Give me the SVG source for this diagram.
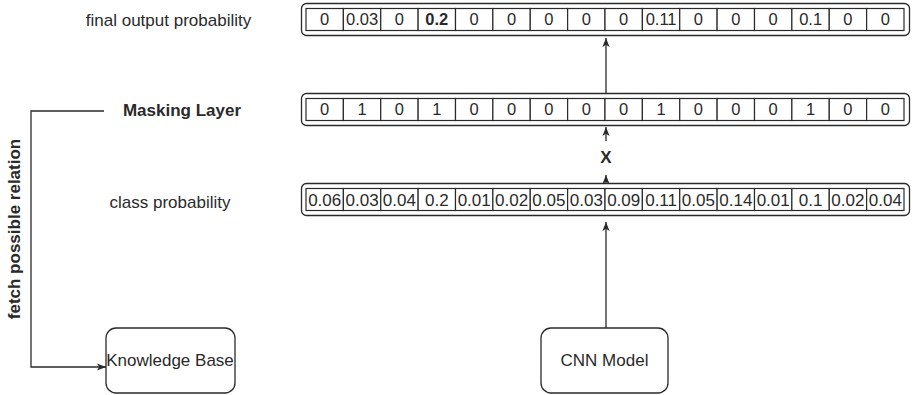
<svg xmlns="http://www.w3.org/2000/svg" width="913" height="395" viewBox="0 0 913 395">
<style>
.bg{fill:#ffffff}
.outer{fill:#ffffff;stroke:#2a2a2a;stroke-width:1.3}
.cell{fill:#ffffff;stroke:#2a2a2a;stroke-width:1.2}
.box{fill:#ffffff;stroke:#2a2a2a;stroke-width:1.3}
.ct{font-family:"Liberation Sans",Arial,sans-serif;font-size:16.5px;fill:#2a2a2a;text-anchor:middle}
.cp{font-family:"Liberation Sans",Arial,sans-serif;font-size:17px;fill:#2a2a2a;text-anchor:middle}
.b{font-weight:bold}
.lbl{font-family:"Liberation Sans",Arial,sans-serif;font-size:17px;fill:#2a2a2a;text-anchor:middle}
.edge{fill:none;stroke:#2a2a2a;stroke-width:1.3}
</style>
<defs>
<marker id="arr" viewBox="0 0 10 10" refX="10" refY="5" markerWidth="9" markerHeight="9" markerUnits="userSpaceOnUse" orient="auto">
<path d="M0,1 L10,5 L0,9 L2.5,5 Z" fill="#2a2a2a"/>
</marker>
<g id="cells">
<rect class="cell" x="306" y="0" width="37.375" height="22"/>
<rect class="cell" x="343.375" y="0" width="37.375" height="22"/>
<rect class="cell" x="380.75" y="0" width="37.375" height="22"/>
<rect class="cell" x="418.125" y="0" width="37.375" height="22"/>
<rect class="cell" x="455.5" y="0" width="37.375" height="22"/>
<rect class="cell" x="492.875" y="0" width="37.375" height="22"/>
<rect class="cell" x="530.25" y="0" width="37.375" height="22"/>
<rect class="cell" x="567.625" y="0" width="37.375" height="22"/>
<rect class="cell" x="605" y="0" width="37.375" height="22"/>
<rect class="cell" x="642.375" y="0" width="37.375" height="22"/>
<rect class="cell" x="679.75" y="0" width="37.375" height="22"/>
<rect class="cell" x="717.125" y="0" width="37.375" height="22"/>
<rect class="cell" x="754.5" y="0" width="37.375" height="22"/>
<rect class="cell" x="791.875" y="0" width="37.375" height="22"/>
<rect class="cell" x="829.25" y="0" width="37.375" height="22"/>
<rect class="cell" x="866.625" y="0" width="37.375" height="22"/>
</g>
</defs>
<rect class="bg" x="0" y="0" width="913" height="395"/>

<g id="labels">
<text class="lbl" x="168.5" y="26">final output probability</text>
<text class="lbl b" x="182" y="116">Masking Layer</text>
<text class="lbl" x="170" y="207.5">class probability</text>
<text class="lbl b" x="0" y="0" font-size="16" transform="translate(20,229) rotate(-90)">fetch possible relation</text>
</g>

<g id="final-output">
<rect class="outer" x="301.5" y="3.5" width="608" height="32" rx="5"/>
<use href="#cells" x="0" y="8.5"/>
<text class="ct" x="324.7" y="25.3">0</text>
<text class="ct" x="362.1" y="25.3">0.03</text>
<text class="ct" x="399.4" y="25.3">0</text>
<text class="ct b" x="436.8" y="25.3">0.2</text>
<text class="ct" x="474.2" y="25.3">0</text>
<text class="ct" x="511.6" y="25.3">0</text>
<text class="ct" x="548.9" y="25.3">0</text>
<text class="ct" x="586.3" y="25.3">0</text>
<text class="ct" x="623.7" y="25.3">0</text>
<text class="ct" x="661.1" y="25.3">0.11</text>
<text class="ct" x="698.4" y="25.3">0</text>
<text class="ct" x="735.8" y="25.3">0</text>
<text class="ct" x="773.2" y="25.3">0</text>
<text class="ct" x="810.6" y="25.3">0.1</text>
<text class="ct" x="847.9" y="25.3">0</text>
<text class="ct" x="885.3" y="25.3">0</text>
</g>

<g id="masking-layer">
<rect class="outer" x="301.5" y="93.5" width="608" height="32" rx="5"/>
<use href="#cells" x="0" y="98.5"/>
<text class="ct" x="324.7" y="115.3">0</text>
<text class="ct" x="362.1" y="115.3">1</text>
<text class="ct" x="399.4" y="115.3">0</text>
<text class="ct" x="436.8" y="115.3">1</text>
<text class="ct" x="474.2" y="115.3">0</text>
<text class="ct" x="511.6" y="115.3">0</text>
<text class="ct" x="548.9" y="115.3">0</text>
<text class="ct" x="586.3" y="115.3">0</text>
<text class="ct" x="623.7" y="115.3">0</text>
<text class="ct" x="661.1" y="115.3">1</text>
<text class="ct" x="698.4" y="115.3">0</text>
<text class="ct" x="735.8" y="115.3">0</text>
<text class="ct" x="773.2" y="115.3">0</text>
<text class="ct" x="810.6" y="115.3">1</text>
<text class="ct" x="847.9" y="115.3">0</text>
<text class="ct" x="885.3" y="115.3">0</text>
</g>

<g id="class-probability">
<rect class="outer" x="301.5" y="183.5" width="608" height="32" rx="5"/>
<use href="#cells" x="0" y="188.5"/>
<text class="cp" x="324.7" y="205.7">0.06</text>
<text class="cp" x="362.1" y="205.7">0.03</text>
<text class="cp" x="399.4" y="205.7">0.04</text>
<text class="cp" x="436.8" y="205.7">0.2</text>
<text class="cp" x="474.2" y="205.7">0.01</text>
<text class="cp" x="511.6" y="205.7">0.02</text>
<text class="cp" x="548.9" y="205.7">0.05</text>
<text class="cp" x="586.3" y="205.7">0.03</text>
<text class="cp" x="623.7" y="205.7">0.09</text>
<text class="cp" x="661.1" y="205.7">0.11</text>
<text class="cp" x="698.4" y="205.7">0.05</text>
<text class="cp" x="735.8" y="205.7">0.14</text>
<text class="cp" x="773.2" y="205.7">0.01</text>
<text class="cp" x="810.6" y="205.7">0.1</text>
<text class="cp" x="847.9" y="205.7">0.02</text>
<text class="cp" x="885.3" y="205.7">0.04</text>
</g>

<g id="knowledge-base">
<rect class="box" x="106" y="328" width="129" height="65" rx="10"/>
<text class="lbl" x="170" y="366" font-size="15">Knowledge Base</text>
</g>

<g id="cnn-model">
<rect class="box" x="541" y="328" width="127" height="65" rx="10"/>
<text class="lbl" x="604.5" y="366">CNN Model</text>
</g>

<g id="x-label">
<text class="lbl b" x="606" y="163" font-size="15">X</text>
</g>

<g id="connectors">
<path class="edge" d="M606,328 L606,222" marker-end="url(#arr)"/>
<path class="edge" d="M606,183.5 L606,175" marker-end="url(#arr)"/>
<path class="edge" d="M606,141 L606,127" marker-end="url(#arr)"/>
<path class="edge" d="M606,93.5 L606,38" marker-end="url(#arr)"/>
<path class="edge" d="M104,111 L31,111 L31,367 L106,367" marker-end="url(#arr)"/>
</g>
</svg>
